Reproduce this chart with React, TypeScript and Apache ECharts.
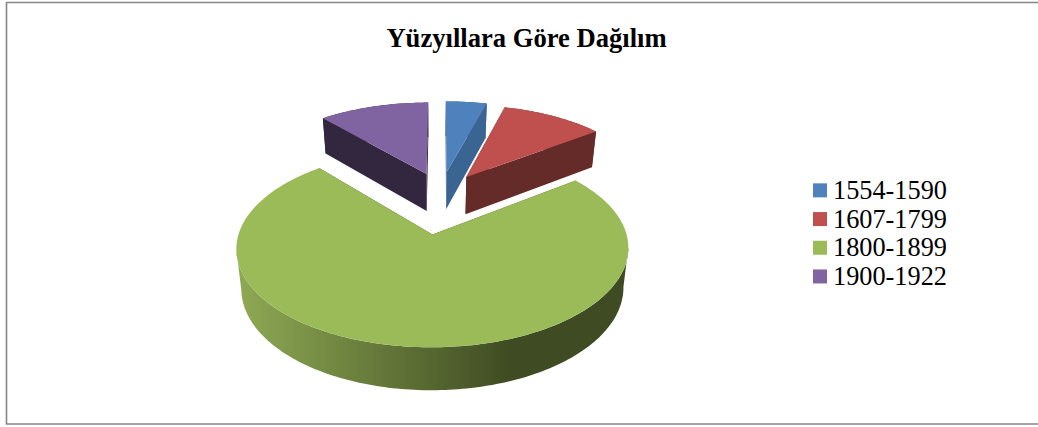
import React, { useEffect, useRef } from "react";
import * as echarts from "echarts";

const categories = ["1554-1590", "1607-1799", "1800-1899", "1900-1922"];
const shares = [4.2, 10.5, 74.0, 11.3];
const topColors = ["#4F81BD", "#C0504D", "#9BBB59", "#8064A2"];
const wallColors = ["#3A6592", "#652B29", "#3F4B22", "#33273F"];
const explodeU = [0.235, 0.255, 0.41, 0.235];
const explodeV = [0.36, 0.36, 0.35, 0.36];
const drawOrder = [3, 0, 1, 2];
const titleText = "Yüzyıllara Göre Dağılım";

// perspective of the pie plane
const CX = 441, CY = 202.3, RX = 184.9, RY = 88, K = 0.135;
const WALL_CX = 433, WALL_SHRINK = 0.975, WALL_H = 37, WALL_REF = 173, WALL_GROW = 0.034;

const total = shares.reduce((a, b) => a + b, 0);

function project(u: number, v: number): [number, number] {
  const w = 1 - K * v;
  return [CX + (RX * u) / w, CY + (RY * v) / w];
}
function lower(p: [number, number]): [number, number] {
  return [
    WALL_CX + (p[0] - WALL_CX) * WALL_SHRINK,
    p[1] + WALL_H + (p[1] - WALL_REF) * WALL_GROW,
  ];
}

function sliceItem(index: number) {
  return () => {
    const before = shares.slice(0, index).reduce((a, b) => a + b, 0);
    const a0 = -Math.PI / 2 + (before / total) * 2 * Math.PI;
    const a1 = a0 + (shares[index] / total) * 2 * Math.PI;
    const mid = (a0 + a1) / 2;
    const cu = explodeU[index] * Math.cos(mid);
    const cv = explodeV[index] * Math.sin(mid);
    const apex = project(cu, cv);
    const arc: [number, number][] = [];
    const n = Math.max(4, Math.ceil((a1 - a0) / 0.02));
    for (let i = 0; i <= n; i++) {
      const a = a0 + ((a1 - a0) * i) / n;
      arc.push(project(cu + Math.cos(a), cv + Math.sin(a)));
    }
    const first = arc[0];
    const last = arc[arc.length - 1];
    // only the part of the rim between its horizontal extremes faces the viewer
    let iMin = 0, iMax = 0;
    arc.forEach((p, i) => {
      if (p[0] < arc[iMin][0]) iMin = i;
      if (p[0] > arc[iMax][0]) iMax = i;
    });
    const rim = arc.slice(Math.min(iMin, iMax), Math.max(iMin, iMax) + 1);
    const wallFill: any =
      index === 2
        ? {
            type: "linear",
            x: 0,
            y: 0,
            x2: 1,
            y2: 0,
            colorStops: [
              { offset: 0, color: "#8FAA54" },
              { offset: 0.7, color: "#3F4B22" },
              { offset: 1, color: "#3F4B22" },
            ],
          }
        : wallColors[index];
    const wallStyle = { fill: wallColors[index] };
    return {
      type: "group",
      silent: true,
      children: [
        {
          type: "polygon",
          shape: { points: [apex, first, lower(first), lower(apex)] },
          style: wallStyle,
        },
        {
          type: "polygon",
          shape: { points: [apex, last, lower(last), lower(apex)] },
          style: wallStyle,
        },
        {
          type: "polygon",
          shape: { points: [...rim, ...rim.slice().reverse().map(lower)] },
          style: { fill: wallFill },
        },
        {
          type: "polygon",
          shape: { points: [apex, ...arc] },
          style: { fill: topColors[index] },
        },
      ],
    };
  };
}

export default function App() {
  const ref = useRef<HTMLDivElement>(null);
  useEffect(() => {
    document.body.style.margin = "0";
    document.body.style.background = "#fff";
    const chart = echarts.init(ref.current!, null, { renderer: "svg" });
    chart.setOption({
      animation: false,
      backgroundColor: "#fff",
      title: {
        text: titleText,
        left: 521.5,
        top: 19,
        textAlign: "center",
        textStyle: {
          fontFamily: "Liberation Serif",
          fontWeight: "bold",
          fontSize: 26.6,
          color: "#000",
        },
      },
      legend: {
        orient: "vertical",
        left: 813,
        top: 176,
        itemWidth: 14,
        itemHeight: 14,
        itemGap: 0,
        padding: 0,
        icon: "rect",
        selectedMode: false,
        data: categories,
        textStyle: {
          fontFamily: "Liberation Serif",
          fontSize: 26.3,
          color: "#000",
          lineHeight: 28.7,
          padding: [0, 0, 0, 1],
        },
      },
      graphic: [
        {
          type: "rect",
          silent: true,
          shape: { x: 6.5, y: 2.5, width: 1060, height: 421.5 },
          style: { fill: "none", stroke: "#868686", lineWidth: 1.6 },
        },
      ],
      series: drawOrder.map((i) => ({
        type: "custom",
        name: categories[i],
        coordinateSystem: "none",
        itemStyle: { color: topColors[i] },
        data: [[shares[i]]],
        renderItem: sliceItem(i),
      })),
    });
    return () => chart.dispose();
  }, []);
  return (
    <div
      ref={ref}
      style={{ position: "fixed", left: 0, top: 0, width: 1038, height: 427 }}
    />
  );
}
